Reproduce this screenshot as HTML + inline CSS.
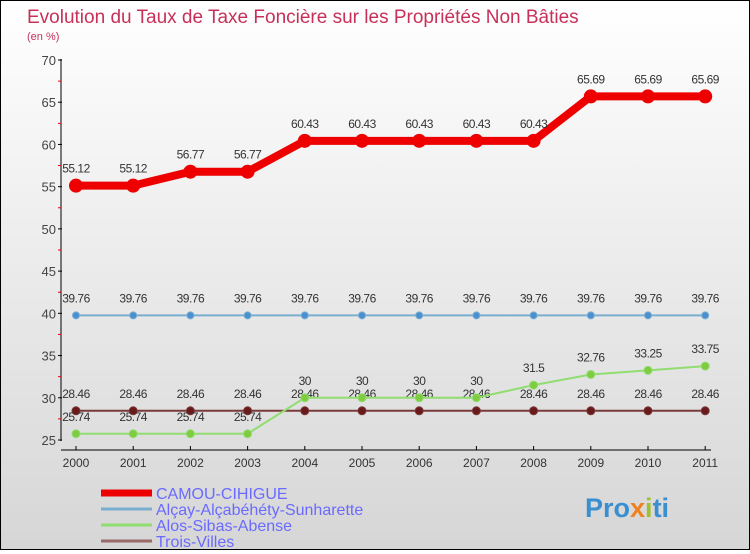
<!DOCTYPE html>
<html><head><meta charset="utf-8"><style>
html,body{margin:0;padding:0}
body{width:750px;height:550px;overflow:hidden;font-family:"Liberation Sans",sans-serif}
#wrap{position:absolute;left:0;top:0;width:748px;height:548px;border:1px solid #000;background:linear-gradient(#ffffff,#d6d6d6)}
</style></head><body>
<div id="wrap">
<svg id="chart" width="748" height="548">
<text x="26" y="22" font-size="19" fill="#c8305a">Evolution du Taux de Taxe Foncière sur les Propriétés Non Bâties</text>
<text x="26" y="39" font-size="11" fill="#c8305a">(en %)</text>
<text x="584" y="516" font-size="27" font-weight="bold" fill="#3a8fd0">Pro<tspan fill="#f08020">x</tspan><tspan fill="#a0c030">i</tspan>ti</text>
</svg></div>
<script>
const years=[2000,2001,2002,2003,2004,2005,2006,2007,2008,2009,2010,2011];
const camou=[55.12,55.12,56.77,56.77,60.43,60.43,60.43,60.43,60.43,65.69,65.69,65.69];
const alcay=[39.76,39.76,39.76,39.76,39.76,39.76,39.76,39.76,39.76,39.76,39.76,39.76];
const alos=[25.74,25.74,25.74,25.74,30,30,30,30,31.5,32.76,33.25,33.75];
const trois=[28.46,28.46,28.46,28.46,28.46,28.46,28.46,28.46,28.46,28.46,28.46,28.46];
const yTicks=[25,30,35,40,45,50,55,60,65,70];
const seriesNames=["CAMOU-CIHIGUE","Alçay-Alçabéhéty-Sunharette","Alos-Sibas-Abense","Trois-Villes"];
const svg=document.getElementById('chart');
const NS='http://www.w3.org/2000/svg';
const X=i=>75+i*57.2;
const Y=v=>59+(70-v)*(380/45);
function el(t,a,p){const e=document.createElementNS(NS,t);for(const k in a)e.setAttribute(k,a[k]);(p||svg).appendChild(e);return e;}
let e;
e=el('line',{x1:60,y1:58,x2:60,y2:440,stroke:'#000'});


e=el('line',{x1:60,y1:449,x2:710,y2:449,stroke:'#000'});


yTicks.forEach((v,i)=>{
 el('line',{x1:57,y1:Y(v),x2:61,y2:Y(v),stroke:'#000'});
 if(i<yTicks.length-1)el('line',{x1:57,y1:Y(v+2.5),x2:60,y2:Y(v+2.5),stroke:'#e00'});
 e=el('text',{x:55,y:Y(v)+5,'font-size':13,fill:'#444','text-anchor':'end'});e.textContent=v;
 
 
});
years.forEach((y,i)=>{
 el('line',{x1:X(i),y1:445,x2:X(i),y2:449,stroke:'#000'});
 e=el('text',{x:X(i),y:466,'font-size':12,fill:'#333','text-anchor':'middle'});e.textContent=y;
 
 
});
function series(d,color,w,r,fill,name){
 const g=el('g',{});
 
 
 el('polyline',{points:d.map((v,i)=>X(i)+','+Y(v)).join(' '),fill:'none',stroke:color,'stroke-width':w},g);
 d.forEach((v,i)=>{
  const c=el('circle',{cx:X(i),cy:Y(v),r:r,fill:fill,stroke:color,'stroke-width':1},g);
  
  
  const t=el('text',{x:X(i),y:Y(v)-13,'font-size':12,fill:'#333','text-anchor':'middle','letter-spacing':'-0.5'},g);
  t.textContent=v;
  
  
 });
}
series(trois,'#7a3a3a',2,4,'#6a1a1a','series-trois-villes');
series(alos,'#90dd70',2,4,'#80cc40','series-alos');
series(alcay,'#7aaed0',2,3.5,'#4a90d0','series-alcay');
series(camou,'#ee0000',8,6.5,'#ee0000','series-camou');
const lc=['#ee0000','#7aaed0','#90dd70','#9a6a6a'],lw=[7,3,3,3];
seriesNames.forEach((n,i)=>{
 const yy=492+i*16;
 const g=el('g',{});
 
 
 el('line',{x1:100,y1:yy,x2:151,y2:yy,stroke:lc[i],'stroke-width':lw[i]},g);
 const t=el('text',{x:155,y:yy+6,'font-size':16,fill:'#6a6aff'},g);t.textContent=n;
});
</script>
</body></html>
